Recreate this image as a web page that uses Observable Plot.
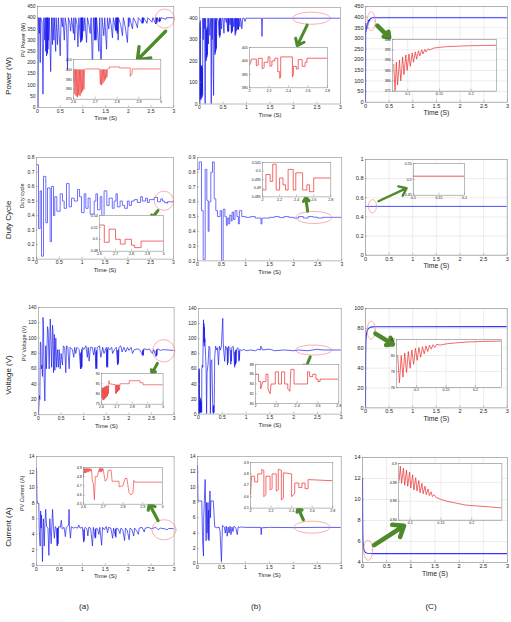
<!DOCTYPE html>
<html>
<head>
<meta charset="utf-8">
<script src="https://cdn.jsdelivr.net/npm/d3@7"></script>
<script src="https://cdn.jsdelivr.net/npm/@observablehq/plot@0.6"></script>
<style>
  body { margin: 0; background: #fff; }
  #fig { position: relative; width: 511px; height: 622px; overflow: hidden; font-family: "Liberation Sans", Arial, sans-serif; color: #222; background: #fff; }
  #fig svg { position: absolute; overflow: visible; }
  .lab { position: absolute; font-size: 8px; white-space: nowrap; line-height: 1; }
  .rot { transform: translate(-50%, -50%) rotate(-90deg); }
  .ctr { transform: translate(-50%, -50%); }
</style>
</head>
<body>
<div id="fig"></div>
<script>
// ---- tick values ----
const timeTicks = [0, 0.5, 1, 1.5, 2, 2.5, 3];
const powerTicks = [0, 50, 100, 150, 200, 250, 300, 350, 400, 450];
const powerTicksB = [0, 100, 200, 300, 400];
const dutyTicksA = [0.1, 0.2, 0.3, 0.4, 0.5, 0.6, 0.7, 0.8];
const dutyTicksB = [0.2, 0.3, 0.4, 0.5, 0.6, 0.7, 0.8, 0.9];
const dutyTicksC = [0, 0.2, 0.4, 0.6, 0.8, 1];
const voltTicks = [0, 20, 40, 60, 80, 100, 120, 140];
const voltTicksC = [0, 20, 40, 60, 80, 100];
const currTicks = [0, 2, 4, 6, 8, 10, 12, 14];
const currTicksC = [4, 6, 8, 10, 12, 14];
const zoomTimeLate = [2.6, 2.7, 2.8, 2.9, 3];
const zoomTimeMid = [2, 2.2, 2.4, 2.6, 2.8];
const zoomTimeEarly = [0.1, 0.15, 0.2];
const powerZoomTicksA = [370, 380, 390, 400, 410];
const powerZoomTicksB = [390, 395, 400, 405];
const powerZoomTicksC = [375, 380, 385, 390, 395, 400];
const dutyZoomTicksA = [0.48, 0.5, 0.52, 0.54];
const dutyZoomTicksB = [0.485, 0.49, 0.495, 0.5, 0.505];
const dutyZoomTicksC = [0.45, 0.5, 0.55];
const voltZoomTicksA = [75, 80, 85, 90];
const voltZoomTicksB = [80, 82, 84, 86, 88];
const voltZoomTicksC = [76, 78, 80, 82];
const currZoomTicks = [4.5, 4.6, 4.7, 4.8, 4.9];
const currZoomTicksC = [4.84, 4.86, 4.88, 4.9];

// ---- PV power [time (s), W] ----
const powerA = [[0,0],[0.015,0],[0.02,400],[0.04,330],[0.05,400],[0.06,200],[0.07,400],[0.1,380],[0.12,60],[0.14,400],[0.16,300],[0.17,400],[0.18,250],[0.19,400],[0.2,230],[0.205,400],[0.21,250],[0.215,400],[0.22,240],[0.225,400],[0.23,260],[0.235,400],[0.24,300],[0.26,400],[0.29,160],[0.31,400],[0.33,280],[0.34,400],[0.36,300],[0.37,400],[0.4,250],[0.41,400],[0.44,280],[0.46,400],[0.5,230],[0.52,400],[0.55,360],[0.56,400],[0.59,300],[0.61,400],[0.64,360],[0.66,170],[0.68,400],[0.71,380],[0.73,340],[0.75,400],[0.79,330],[0.8,400],[0.82,300],[0.84,400],[0.87,370],[0.89,270],[0.91,400],[0.95,290],[0.955,400],[0.96,300],[0.965,400],[0.97,295],[0.975,400],[0.98,300],[0.985,400],[0.99,310],[1.0,400],[1.02,340],[1.04,400],[1.08,290],[1.1,400],[1.13,370],[1.16,330],[1.18,400],[1.21,160],[1.23,400],[1.26,300],[1.265,400],[1.27,300],[1.275,400],[1.28,310],[1.285,400],[1.29,300],[1.3,400],[1.32,350],[1.35,250],[1.37,400],[1.4,130],[1.42,400],[1.46,320],[1.48,400],[1.52,260],[1.54,400],[1.57,350],[1.59,400],[1.62,370],[1.65,310],[1.67,400],[1.72,345],[1.725,400],[1.73,340],[1.735,400],[1.74,345],[1.75,400],[1.755,330],[1.76,400],[1.765,335],[1.77,400],[1.775,300],[1.78,400],[1.83,370],[1.87,320],[1.89,400],[1.93,360],[1.98,290],[2.0,400],[2.01,360],[2.03,400],[2.09,350],[2.11,400],[2.16,380],[2.2,355],[2.22,400],[2.28,385],[2.3,375],[2.305,400],[2.31,378],[2.315,400],[2.32,375],[2.325,400],[2.33,380],[2.34,400],[2.41,375],[2.43,400],[2.52,380],[2.54,400],[2.6,372],[2.605,400],[2.61,375],[2.615,400],[2.62,373],[2.625,400],[2.63,378],[2.64,400],[2.68,382],[2.685,400],[2.69,382],[2.695,400],[2.7,385],[2.72,400],[2.83,393],[2.84,400],[3,400]];
const powerAZoom = [[2.6,388],[2.603,400],[2.606,375],[2.609,400],[2.612,373],[2.615,400],[2.618,372],[2.621,400],[2.624,374],[2.627,400],[2.63,373],[2.633,400],[2.636,376],[2.639,400],[2.642,378],[2.645,400],[2.648,380],[2.651,400],[2.655,400.5],[2.72,400.5],[2.723,385],[2.726,400],[2.729,384],[2.732,400],[2.735,386],[2.738,400],[2.741,388],[2.744,400],[2.747,390],[2.75,400],[2.753,392],[2.756,400],[2.76,401],[2.765,401],[2.765,402.5],[2.81,402.5],[2.81,401.5],[2.86,401.5],[2.86,393],[2.868,396],[2.87,400.5],[3,400.5]];
const powerB = [[0,0],[0.003,380],[0.006,0],[0.009,360],[0.012,20],[0.015,390],[0.018,40],[0.021,170],[0.024,30],[0.027,180],[0.03,20],[0.033,170],[0.036,40],[0.039,175],[0.042,30],[0.045,160],[0.048,50],[0.051,180],[0.054,30],[0.057,150],[0.06,60],[0.063,170],[0.066,40],[0.07,400],[0.08,300],[0.09,400],[0.1,350],[0.11,400],[0.12,0],[0.13,400],[0.14,200],[0.145,340],[0.15,210],[0.155,350],[0.16,220],[0.165,360],[0.17,230],[0.175,330],[0.18,400],[0.19,280],[0.2,400],[0.22,320],[0.24,400],[0.25,0],[0.26,400],[0.27,300],[0.28,400],[0.29,170],[0.3,40],[0.31,400],[0.33,230],[0.335,400],[0.34,240],[0.345,390],[0.35,250],[0.355,400],[0.36,260],[0.37,400],[0.4,390],[0.42,320],[0.425,400],[0.43,310],[0.435,400],[0.44,320],[0.45,400],[0.47,350],[0.48,400],[0.5,400],[0.52,330],[0.53,400],[0.55,400],[0.57,380],[0.58,400],[0.6,340],[0.605,400],[0.61,335],[0.615,400],[0.62,340],[0.63,400],[0.65,370],[0.66,400],[0.68,330],[0.685,400],[0.69,335],[0.695,400],[0.7,340],[0.71,400],[0.73,360],[0.74,400],[0.76,320],[0.765,400],[0.77,330],[0.775,400],[0.78,340],[0.79,400],[0.81,350],[0.815,400],[0.82,345],[0.825,400],[0.83,350],[0.84,400],[0.86,360],[0.87,400],[0.89,380],[0.9,350],[0.92,400],[0.95,400],[0.97,385],[0.99,400],[1.32,400],[1.33,315],[1.34,400],[3,400]];
const powerBZoom = [[2,398.5],[2.01,399],[2.02,400.7],[2.07,400.7],[2.07,398.2],[2.09,398.5],[2.09,401],[2.13,401],[2.13,397],[2.15,397.5],[2.15,399.5],[2.19,399.5],[2.19,401.5],[2.21,401.5],[2.21,398],[2.23,398.2],[2.23,400],[2.26,400],[2.26,401],[2.29,401],[2.29,396],[2.31,396],[2.31,393.5],[2.32,394],[2.32,401.5],[2.44,401.5],[2.44,394],[2.45,395],[2.45,398],[2.48,398],[2.48,397],[2.5,397],[2.5,400.5],[2.54,400.5],[2.54,398],[2.57,398],[2.57,399.5],[2.59,399.5],[2.59,401],[2.8,401]];
const powerC = [[0,0],[0.002,300],[0.004,370],[0.01,330],[0.02,355],[0.03,345],[0.04,372],[0.05,362],[0.06,384],[0.07,378],[0.08,389],[0.09,385],[0.1,392],[0.12,395],[0.15,397],[0.2,397],[3,397]];
const powerCZoom = [[0.078,388],[0.08,375],[0.082,389],[0.084,378],[0.087,390],[0.089,380],[0.092,391.5],[0.094,383],[0.097,392.5],[0.099,385],[0.102,393],[0.104,387],[0.107,393.5],[0.109,389],[0.112,394],[0.114,390.5],[0.117,394.5],[0.119,392],[0.122,395],[0.124,393],[0.127,395.2],[0.129,394],[0.132,395.5],[0.135,395],[0.14,395.8],[0.15,396.2],[0.16,396.5],[0.18,396.8],[0.2,397],[0.22,397.1],[0.24,397.2]];

// ---- duty cycle [time (s), ratio], held between updates ----
const dutyA = [[0,0.75],[0.044,0.31],[0.08,0.57],[0.11,0.12],[0.153,0.67],[0.204,0.35],[0.241,0.59],[0.299,0.22],[0.329,0.6],[0.372,0.4],[0.4,0.53],[0.445,0.43],[0.518,0.55],[0.569,0.5],[0.606,0.45],[0.657,0.62],[0.715,0.46],[0.767,0.52],[0.825,0.5],[0.898,0.58],[0.942,0.53],[0.986,0.42],[1.044,0.55],[1.08,0.45],[1.13,0.52],[1.175,0.41],[1.263,0.5],[1.3,0.55],[1.336,0.44],[1.394,0.53],[1.43,0.4],[1.48,0.57],[1.54,0.47],[1.59,0.52],[1.66,0.45],[1.7,0.5],[1.74,0.55],[1.77,0.46],[1.83,0.5],[1.88,0.47],[1.93,0.45],[1.99,0.5],[2.03,0.47],[2.08,0.5],[2.14,0.51],[2.21,0.49],[2.28,0.53],[2.32,0.5],[2.39,0.52],[2.43,0.49],[2.47,0.51],[2.58,0.525],[2.65,0.495],[2.72,0.515],[2.76,0.5],[2.8,0.49],[2.85,0.485],[2.87,0.495],[3,0.495]];
const dutyAZoom = [[2.6,0.524],[2.63,0.495],[2.66,0.517],[2.7,0.5],[2.73,0.492],[2.76,0.5],[2.8,0.49],[2.82,0.486],[2.86,0.497],[3,0.497]];
const dutyB = [[0,0.82],[0.035,0.87],[0.083,0.54],[0.118,0.21],[0.16,0.82],[0.194,0.61],[0.222,0.4],[0.24,0.6],[0.277,0.8],[0.312,0.87],[0.347,0.62],[0.381,0.54],[0.416,0.5],[0.471,0.54],[0.5,0.2],[0.534,0.55],[0.57,0.5],[0.6,0.44],[0.62,0.49],[0.65,0.45],[0.67,0.51],[0.7,0.47],[0.72,0.53],[0.75,0.48],[0.78,0.54],[0.82,0.5],[0.85,0.45],[0.87,0.54],[0.92,0.5],[1.0,0.495],[1.1,0.5],[1.2,0.49],[1.32,0.45],[1.34,0.49],[1.5,0.495],[1.6,0.5],[1.7,0.493],[1.8,0.5],[1.9,0.495],[2.0,0.49],[2.1,0.5],[2.2,0.49],[2.3,0.5],[2.4,0.496],[2.5,0.49],[2.6,0.495],[3,0.495]];
const dutyBZoom = [[2,0.489],[2.04,0.498],[2.09,0.494],[2.12,0.504],[2.16,0.489],[2.2,0.496],[2.24,0.492],[2.27,0.489],[2.3,0.501],[2.36,0.489],[2.39,0.499],[2.47,0.489],[2.52,0.492],[2.55,0.488],[2.6,0.496],[2.8,0.496]];
const dutyC = [[0,0.51],[3,0.51]];
const dutyCZoom = [[0.1,0.51],[0.2,0.51]];

// ---- PV voltage [time (s), V] ----
const voltageA = [[0,0],[0.02,25],[0.03,20],[0.04,95],[0.052,93],[0.06,60],[0.075,65],[0.088,50],[0.1,127],[0.11,115],[0.125,48],[0.14,18],[0.16,90],[0.175,60],[0.2,115],[0.214,110],[0.236,60],[0.26,125],[0.273,100],[0.29,62],[0.31,117],[0.32,110],[0.332,55],[0.35,105],[0.361,58],[0.383,100],[0.4,62],[0.42,85],[0.44,62],[0.457,85],[0.48,60],[0.5,80],[0.53,65],[0.55,90],[0.58,88],[0.604,55],[0.62,90],[0.65,88],[0.678,60],[0.7,88],[0.75,85],[0.78,75],[0.8,88],[0.825,80],[0.85,88],[0.9,85],[0.93,60],[0.935,80],[0.94,60],[0.945,82],[0.95,62],[0.955,85],[0.96,62],[0.97,88],[1.0,85],[1.05,90],[1.08,75],[1.1,88],[1.12,70],[1.15,88],[1.19,88],[1.22,78],[1.25,88],[1.27,60],[1.275,82],[1.28,62],[1.285,84],[1.29,60],[1.3,88],[1.35,90],[1.38,75],[1.42,88],[1.45,80],[1.5,88],[1.51,62],[1.515,84],[1.52,64],[1.525,86],[1.53,62],[1.54,88],[1.58,85],[1.62,88],[1.64,80],[1.68,85],[1.72,88],[1.75,65],[1.755,84],[1.76,66],[1.765,85],[1.77,68],[1.78,88],[1.82,90],[1.85,82],[1.89,88],[1.93,82],[1.97,88],[2.0,84],[2.05,88],[2.08,80],[2.12,85],[2.2,86],[2.25,84],[2.3,78],[2.305,84],[2.31,77],[2.315,85],[2.32,78],[2.33,86],[2.41,85],[2.45,86],[2.52,80],[2.55,85],[2.6,76],[2.605,84],[2.61,77],[2.615,85],[2.62,78],[2.63,86],[2.7,84],[2.75,85],[3,84]];
const voltageAZoom = [[2.6,82],[2.603,78],[2.606,83],[2.609,77],[2.612,83],[2.615,77],[2.618,83.5],[2.621,77.5],[2.624,83.5],[2.627,78],[2.63,84],[2.633,78.5],[2.636,84],[2.639,79],[2.642,84],[2.645,80],[2.648,86.5],[2.652,85],[2.69,84.5],[2.692,80],[2.695,84.5],[2.698,80.5],[2.701,84.5],[2.704,81],[2.707,84.5],[2.71,81.5],[2.713,84.5],[2.716,82],[2.72,85],[2.78,85],[2.78,86.5],[2.85,86.5],[2.85,85.5],[2.87,85.5],[2.87,84.5],[3,84.5]];
const voltageB = [[0,0],[0.003,60],[0.006,0],[0.009,55],[0.012,5],[0.015,60],[0.018,0],[0.021,22],[0.024,3],[0.027,20],[0.03,2],[0.033,22],[0.036,5],[0.039,18],[0.042,2],[0.045,20],[0.048,5],[0.051,18],[0.054,3],[0.057,15],[0.06,5],[0.063,16],[0.066,2],[0.07,60],[0.08,65],[0.09,62],[0.1,105],[0.105,125],[0.11,95],[0.115,120],[0.12,90],[0.125,115],[0.13,95],[0.135,100],[0.14,92],[0.15,75],[0.16,60],[0.17,0],[0.18,55],[0.2,65],[0.22,90],[0.24,88],[0.25,0],[0.26,70],[0.28,72],[0.3,10],[0.305,2],[0.31,10],[0.315,0],[0.32,12],[0.325,2],[0.33,8],[0.34,75],[0.36,90],[0.38,85],[0.4,88],[0.42,65],[0.44,90],[0.46,85],[0.48,90],[0.51,127],[0.52,95],[0.53,85],[0.55,70],[0.57,90],[0.6,85],[0.61,65],[0.615,88],[0.62,68],[0.63,90],[0.66,88],[0.68,66],[0.685,85],[0.69,70],[0.7,88],[0.73,90],[0.76,62],[0.765,82],[0.77,65],[0.775,84],[0.78,66],[0.785,85],[0.79,68],[0.8,86],[0.83,88],[0.85,70],[0.855,84],[0.86,72],[0.87,86],[0.9,84],[0.95,86],[1.0,84],[1.1,85],[1.2,84],[1.25,86],[1.3,85],[1.31,90],[1.33,88],[1.34,85],[1.5,86],[1.6,84],[1.8,85],[2.0,84],[2.1,85],[2.3,84],[2.5,86],[2.6,85],[3,85]];
const voltageBZoom = [[2,86],[2.03,86],[2.03,84.5],[2.05,84.5],[2.05,83],[2.07,84.5],[2.1,84.5],[2.1,86],[2.12,86],[2.12,83],[2.14,82],[2.15,84],[2.19,84],[2.19,86.5],[2.22,86.5],[2.22,84],[2.25,84],[2.25,86.5],[2.28,86.5],[2.28,84],[2.31,84],[2.31,83],[2.33,82.5],[2.34,87],[2.37,87],[2.37,84],[2.5,84],[2.5,86.5],[2.52,86.5],[2.52,85.5],[2.55,85.5],[2.55,86],[2.58,86],[2.58,85],[2.6,85],[2.6,84.5],[2.62,84.5],[2.62,85],[2.8,85]];
const voltageC = [[0,0],[0.002,40],[0.005,60],[0.01,68],[0.02,74],[0.03,77],[0.05,79],[0.08,80.5],[0.1,81],[0.15,81.5],[0.2,81.7],[3,81.8]];
const voltageCZoom = [[0.068,80],[0.071,76.6],[0.074,80],[0.077,77.3],[0.08,80.3],[0.083,77.9],[0.086,80.5],[0.089,78.4],[0.092,80.7],[0.095,78.9],[0.098,80.9],[0.101,79.4],[0.104,81],[0.107,79.8],[0.11,81.1],[0.113,80.2],[0.116,81.2],[0.119,80.5],[0.122,81.3],[0.125,80.8],[0.128,81.35],[0.131,81],[0.134,81.4],[0.14,81.3],[0.15,81.45],[0.17,81.6],[0.19,81.7],[0.21,81.75],[0.244,81.8]];

// ---- PV current [time (s), A] ----
const currentA = [[0,12.5],[0.01,8.5],[0.02,8],[0.05,8],[0.06,4.5],[0.08,2.5],[0.09,7],[0.1,4.8],[0.11,6.5],[0.13,0.5],[0.15,6],[0.17,2.5],[0.18,4.8],[0.2,7.2],[0.22,5],[0.25,4.8],[0.27,1.3],[0.29,6],[0.32,2.8],[0.35,7.2],[0.37,4.8],[0.39,3.5],[0.41,5],[0.43,4.8],[0.45,2.5],[0.455,4.8],[0.46,2.6],[0.465,4.8],[0.47,2.8],[0.48,5],[0.52,4.9],[0.54,5.8],[0.56,4.7],[0.6,4.9],[0.63,3.7],[0.65,4.9],[0.7,5.2],[0.71,7.2],[0.72,4.8],[0.74,3.5],[0.76,5],[0.8,4.8],[0.85,4.9],[0.9,4.8],[0.92,5.2],[0.95,4.8],[1.0,4.9],[1.03,3],[1.035,4.6],[1.04,3.2],[1.045,4.8],[1.06,4.9],[1.1,4.7],[1.12,3.8],[1.14,4.9],[1.18,4.8],[1.22,2.5],[1.24,4.9],[1.28,3.5],[1.285,4.7],[1.29,3.6],[1.3,4.8],[1.33,4.7],[1.36,4],[1.38,4.9],[1.42,2.6],[1.44,4.9],[1.48,4.6],[1.52,5],[1.55,4.2],[1.57,4.9],[1.62,4.8],[1.66,3.5],[1.68,4.8],[1.72,3.8],[1.725,4.7],[1.73,3.6],[1.74,4.8],[1.78,4.7],[1.82,4.1],[1.84,4.8],[1.88,4.6],[1.92,3.2],[1.94,4.8],[1.98,4.5],[2.02,3.3],[2.04,4.8],[2.08,4.6],[2.12,3.8],[2.14,4.8],[2.18,4.5],[2.22,4],[2.24,4.8],[2.3,4.9],[2.35,4.3],[2.37,4.8],[2.45,4.9],[2.5,4.7],[2.55,4.8],[2.6,4.9],[2.65,4.6],[2.7,4.8],[2.8,4.7],[2.85,4.6],[2.88,4.75],[3,4.74]];
const currentAZoom = [[2.6,4.8],[2.603,4.89],[2.606,4.84],[2.609,4.89],[2.612,4.84],[2.615,4.89],[2.618,4.85],[2.621,4.89],[2.624,4.85],[2.627,4.89],[2.63,4.86],[2.633,4.89],[2.636,4.86],[2.64,4.88],[2.645,4.75],[2.65,4.72],[2.655,4.55],[2.66,4.8],[2.67,4.8],[2.675,4.85],[2.68,4.89],[2.683,4.85],[2.686,4.89],[2.689,4.85],[2.692,4.89],[2.695,4.86],[2.698,4.89],[2.7,4.87],[2.71,4.75],[2.72,4.78],[2.725,4.87],[2.74,4.87],[2.745,4.75],[2.78,4.75],[2.78,4.69],[2.8,4.7],[2.81,4.78],[2.82,4.78],[2.83,4.63],[2.84,4.6],[2.85,4.62],[2.855,4.76],[2.86,4.74],[3,4.74]];
const currentB = [[0,12.8],[0.01,8.2],[0.09,8.2],[0.1,5],[0.11,2.5],[0.125,1],[0.13,6],[0.16,11],[0.18,3],[0.19,8],[0.2,4],[0.22,8],[0.225,3.2],[0.23,7],[0.24,3],[0.26,9.5],[0.27,6],[0.28,8.2],[0.33,8.2],[0.36,4.8],[0.4,4.7],[0.45,4.8],[0.47,4.3],[0.5,0.3],[0.52,5],[0.56,4.8],[0.58,4],[0.6,4.9],[0.62,3.6],[0.64,4.8],[0.66,4],[0.68,4.9],[0.7,3.8],[0.72,4.8],[0.74,4.2],[0.76,4.9],[0.8,4.7],[0.83,3.8],[0.85,4.8],[0.88,4.75],[0.9,4.8],[1.0,4.75],[1.32,4.75],[1.33,3.8],[1.34,4.7],[1.5,4.75],[2.0,4.72],[2.5,4.75],[3,4.74]];
const currentBZoom = [[2,4.62],[2.01,4.78],[2.04,4.78],[2.04,4.73],[2.07,4.73],[2.07,4.8],[2.11,4.8],[2.11,4.84],[2.13,4.83],[2.13,4.6],[2.15,4.62],[2.15,4.78],[2.19,4.78],[2.19,4.66],[2.21,4.67],[2.21,4.8],[2.25,4.8],[2.25,4.65],[2.27,4.66],[2.27,4.84],[2.3,4.83],[2.3,4.57],[2.32,4.59],[2.32,4.81],[2.4,4.8],[2.4,4.6],[2.43,4.63],[2.43,4.72],[2.47,4.72],[2.47,4.68],[2.5,4.68],[2.5,4.72],[2.53,4.72],[2.53,4.67],[2.56,4.67],[2.56,4.75],[2.8,4.74]];
const currentC = [[0,12],[0.003,9],[0.006,7],[0.01,6],[0.02,5.4],[0.04,5.1],[0.06,4.95],[0.1,4.88],[0.2,4.85],[3,4.85]];
const currentCZoom = [[0.082,4.882],[0.084,4.897],[0.086,4.879],[0.089,4.895],[0.091,4.877],[0.094,4.893],[0.096,4.876],[0.099,4.891],[0.101,4.874],[0.104,4.888],[0.106,4.872],[0.109,4.885],[0.111,4.871],[0.114,4.882],[0.116,4.869],[0.119,4.879],[0.121,4.868],[0.124,4.876],[0.126,4.867],[0.129,4.873],[0.131,4.866],[0.134,4.87],[0.136,4.865],[0.139,4.867],[0.142,4.864],[0.15,4.862],[0.16,4.86],[0.175,4.858],[0.19,4.856],[0.21,4.855],[0.23,4.854],[0.249,4.853]];

// ---- styling ----
const BLUE = "#1d1dee", BLUE_STEP = "#4b4bff", BLUE_C = "#3535ff";
const RED = "#ec2b2b", GREEN = "#4e8a2b", RING = "#f07b7b", FRAME = "#8c8c8c", INK = "#262626";
const fmt = d3.format("~g");

// closed outline used for the highlight rings
function ring([cx, cy, rx, ry]) {
  return d3.range(49).map(i => {
    const a = (i / 48) * 2 * Math.PI;
    return [cx + rx * Math.cos(a), cy + ry * Math.sin(a)];
  });
}

const fig = document.getElementById("fig");

function draw(p, inset) {
  const [x0, x1, y0, y1] = p.frame;
  const m = inset ? {l: 14, r: 4, t: 3, b: 8} : {l: 26, r: 6, t: 4, b: 22};
  const fs = inset ? 3.7 : (p.grid ? 5.6 : 5);
  const marks = [];
  if (inset) marks.push(Plot.frame({fill: "white", stroke: "none"}));
  if (p.grid) {
    marks.push(Plot.gridX({ticks: p.xt, stroke: "#dadada", strokeOpacity: 1, strokeWidth: 0.5}));
    marks.push(Plot.gridY({ticks: p.yt, stroke: "#dadada", strokeOpacity: 1, strokeWidth: 0.5}));
  }
  marks.push(Plot.line(p.data, {
    x: d => d[0], y: d => d[1], stroke: p.color, strokeWidth: p.sw,
    curve: p.step ? "step-after" : "linear", clip: true
  }));
  marks.push(Plot.frame({stroke: FRAME, strokeWidth: 0.6}));
  marks.push(Plot.axisX({ticks: p.xt, tickFormat: fmt, tickSize: -2, tickPadding: inset ? 3.3 : 3.6, fontSize: fs, label: null, stroke: FRAME, strokeWidth: 0.5, fill: INK}));
  marks.push(Plot.axisY({ticks: p.yt, tickFormat: fmt, tickSize: -2, tickPadding: inset ? 3.6 : 4, fontSize: fs, label: null, stroke: FRAME, strokeWidth: 0.5, fill: INK}));
  if (!inset) {
    marks.push(Plot.text(["Time (S)"], {text: d => d, frameAnchor: "bottom", dy: 13, fontSize: p.grid ? 6.8 : 6, fill: INK}));
    if (p.ylabel) marks.push(Plot.text([p.ylabel], {text: d => d, frameAnchor: "left", dx: -14, rotate: -90, fontSize: 5.4, fill: INK}));
    marks.push(Plot.line(ring(p.ell), {x: d => d[0], y: d => d[1], stroke: RING, strokeWidth: 0.6, curve: "linear-closed"}));
    marks.push(Plot.arrow([p.arr], {
      x1: d => d[0], y1: d => d[1], x2: d => d[2], y2: d => d[3],
      stroke: GREEN, strokeWidth: p.aw, headLength: p.aw * 2.2, headAngle: 75
    }));
  }
  const svg = Plot.plot({
    width: x1 - x0 + m.l + m.r,
    height: y1 - y0 + m.t + m.b,
    marginLeft: m.l, marginRight: m.r, marginTop: m.t, marginBottom: m.b,
    x: {domain: p.x},
    y: {domain: p.y},
    style: {fontFamily: "Liberation Sans, Arial, sans-serif", color: INK, background: "transparent"},
    marks
  });
  svg.style.left = (x0 - m.l) + "px";
  svg.style.top = (y0 - m.t) + "px";
  fig.appendChild(svg);
}

const T = [0, 3];
const mains = [
  {frame: [36.7, 173, 6, 107], x: T, xt: timeTicks, y: [0, 450], yt: powerTicks, data: powerA, color: BLUE, sw: 0.7, ylabel: "PV Power (W)", ell: [2.8, 396, 0.21, 42], arr: [2.82, 340, 2.2, 212], aw: 3.4},
  {frame: [199, 340, 6.5, 103], x: T, xt: timeTicks, y: [0, 450], yt: powerTicksB, data: powerB, color: BLUE, sw: 0.7, ell: [2.38, 400, 0.4, 28], arr: [2.29, 368, 2.08, 272], aw: 3},
  {frame: [365, 507, 6, 101.7], x: T, xt: timeTicks, y: [0, 450], yt: powerTicks, data: powerC, color: BLUE_C, sw: 1.1, grid: true, ell: [0.12, 381, 0.085, 44], arr: [0.25, 360, 0.5, 305], aw: 4.5},
  {frame: [35.7, 172.7, 156.7, 258.3], x: T, xt: timeTicks, y: [0.1, 0.8], yt: dutyTicksA, data: dutyA, step: true, color: BLUE_STEP, sw: 0.8, ylabel: "Duty cycle", ell: [2.79, 0.502, 0.208, 0.0655], arr: [2.66, 0.435, 2.52, 0.38], aw: 3},
  {frame: [196.7, 341, 157.3, 260.7], x: T, xt: timeTicks, y: [0.2, 0.9], yt: dutyTicksB, data: dutyB, step: true, color: BLUE_STEP, sw: 0.8, ell: [2.42, 0.494, 0.374, 0.0406], arr: [2.29, 0.536, 2.25, 0.63], aw: 3},
  {frame: [365, 506.7, 159.3, 255], x: T, xt: timeTicks, y: [0, 1], yt: dutyTicksC, data: dutyC, color: BLUE_STEP, sw: 1, grid: true, ell: [0.148, 0.512, 0.085, 0.068], arr: [0.275, 0.564, 0.87, 0.7], aw: 2.4},
  {frame: [37.7, 173.3, 306.7, 414], x: T, xt: timeTicks, y: [0, 140], yt: voltTicks, data: voltageA, color: BLUE, sw: 0.7, ylabel: "PV Voltage (V)", ell: [2.77, 83.5, 0.243, 14.4], arr: [2.63, 67, 2.51, 54], aw: 3},
  {frame: [198.3, 341, 307.7, 413.3], x: T, xt: timeTicks, y: [0, 140], yt: voltTicks, data: voltageB, color: BLUE, sw: 0.7, ell: [2.42, 84.9, 0.378, 6.6], arr: [2.35, 76, 2.24, 59], aw: 3},
  {frame: [365, 506.7, 308.3, 407.7], x: T, xt: timeTicks, y: [0, 100], yt: voltTicksC, data: voltageC, color: BLUE_C, sw: 1.1, grid: true, ell: [0.12, 78.2, 0.085, 9.05], arr: [0.21, 74.8, 0.58, 64], aw: 4.5},
  {frame: [35.7, 173.3, 456, 565], x: T, xt: timeTicks, y: [0, 14], yt: currTicks, data: currentA, color: BLUE, sw: 0.7, ylabel: "PV Current (A)", ell: [2.78, 4.59, 0.26, 1.28], arr: [2.65, 5.78, 2.46, 7.9], aw: 3.2},
  {frame: [197.3, 341, 456, 563.3], x: T, xt: timeTicks, y: [0, 14], yt: currTicks, data: currentB, color: BLUE, sw: 0.7, ell: [2.39, 4.78, 0.376, 0.78], arr: [2.21, 5.73, 2.1, 7.3], aw: 3.2},
  {frame: [361.7, 506.7, 457.3, 562.3], x: T, xt: timeTicks, y: [4, 14], yt: currTicksC, data: currentC, color: BLUE_C, sw: 1.1, grid: true, ell: [0.116, 5.17, 0.093, 0.95], arr: [0.24, 5.65, 0.86, 7.5], aw: 4.5}
];
const insets = [
  {frame: [72.7, 160, 59, 98.7], x: [2.6, 3], xt: zoomTimeLate, y: [370, 410], yt: powerZoomTicksA, data: powerAZoom, color: RED, sw: 0.6},
  {frame: [249, 327, 46.7, 87], x: [2, 2.8], xt: zoomTimeMid, y: [390, 405], yt: powerZoomTicksB, data: powerBZoom, color: RED, sw: 0.7},
  {frame: [392, 496, 39, 90.7], x: [0.076, 0.24], xt: zoomTimeEarly, y: [375, 400], yt: powerZoomTicksC, data: powerCZoom, color: RED, sw: 0.7, grid: true},
  {frame: [99.3, 163.3, 215, 250.7], x: [2.6, 3], xt: zoomTimeLate, y: [0.48, 0.54], yt: dutyZoomTicksA, data: dutyAZoom, step: true, color: RED, sw: 0.7},
  {frame: [261.7, 330, 162.3, 196.7], x: [2, 2.8], xt: zoomTimeMid, y: [0.485, 0.505], yt: dutyZoomTicksB, data: dutyBZoom, step: true, color: RED, sw: 0.7},
  {frame: [413.3, 464.3, 163.3, 195], x: [0.1, 0.2], xt: zoomTimeEarly, y: [0.45, 0.55], yt: dutyZoomTicksC, data: dutyCZoom, color: RED, sw: 0.8},
  {frame: [100.7, 162.3, 373.3, 404], x: [2.6, 3], xt: zoomTimeLate, y: [75, 90], yt: voltZoomTicksA, data: voltageAZoom, color: RED, sw: 0.6},
  {frame: [255, 338.3, 364.3, 403.3], x: [2, 2.8], xt: zoomTimeMid, y: [80, 88], yt: voltZoomTicksB, data: voltageBZoom, color: RED, sw: 0.7},
  {frame: [396, 501, 339.3, 387.3], x: [0.066, 0.244], xt: zoomTimeEarly, y: [76, 82], yt: voltZoomTicksC, data: voltageCZoom, color: RED, sw: 0.7, grid: true},
  {frame: [82.7, 161.7, 467.3, 504], x: [2.6, 3], xt: zoomTimeLate, y: [4.5, 4.9], yt: currZoomTicks, data: currentAZoom, color: RED, sw: 0.6},
  {frame: [250, 332.3, 461.7, 507.3], x: [2, 2.8], xt: zoomTimeMid, y: [4.5, 4.9], yt: currZoomTicks, data: currentBZoom, color: RED, sw: 0.7},
  {frame: [398.3, 501.7, 463.3, 520], x: [0.081, 0.249], xt: zoomTimeEarly, y: [4.84, 4.9], yt: currZoomTicksC, data: currentCZoom, color: RED, sw: 0.7, grid: true}
];

mains.forEach(p => draw(p, false));
insets.forEach(p => draw(p, true));

// row titles and column captions
const labels = [
  {text: "Power (W)", x: 9, y: 76, rot: true},
  {text: "Duty Cycle", x: 9, y: 220, rot: true},
  {text: "Voltage (V)", x: 9, y: 375, rot: true},
  {text: "Current (A)", x: 9, y: 527, rot: true},
  {text: "(a)", x: 84, y: 607},
  {text: "(b)", x: 256, y: 607},
  {text: "(C)", x: 431, y: 607}
];
for (const l of labels) {
  const el = document.createElement("div");
  el.className = "lab " + (l.rot ? "rot" : "ctr");
  el.style.left = l.x + "px";
  el.style.top = l.y + "px";
  el.textContent = l.text;
  fig.appendChild(el);
}
</script>
</body>
</html>
